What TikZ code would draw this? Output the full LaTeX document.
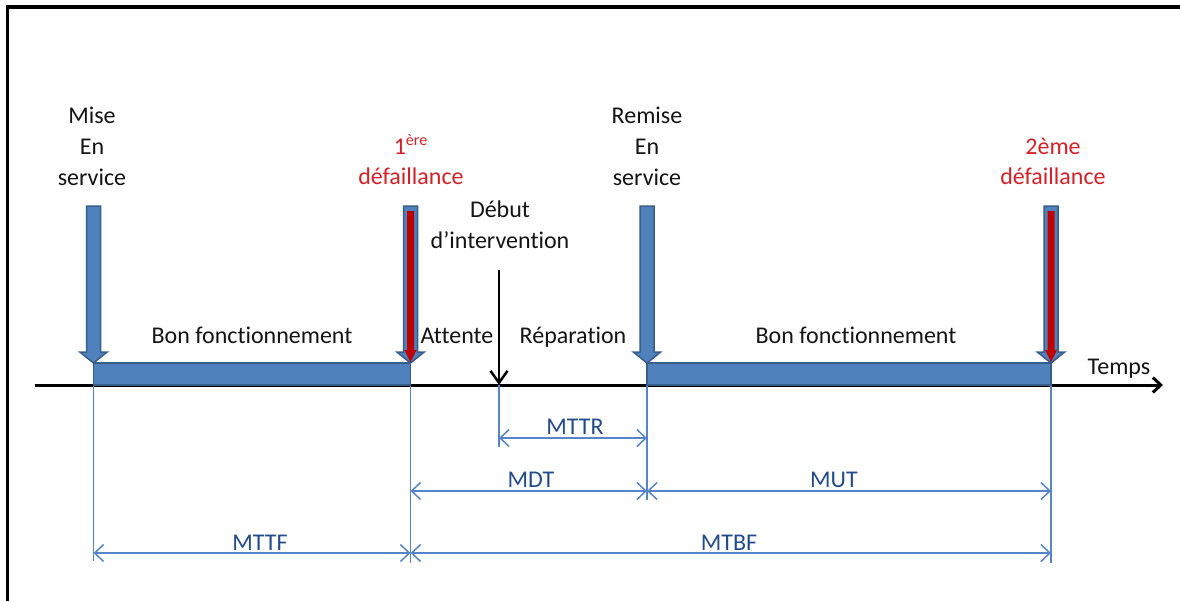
\documentclass[tikz,border=0pt]{standalone}
\usepackage{fontspec}
\setmainfont{Carlito}[Ligatures=NoCommon]
\usetikzlibrary{arrows.meta}

\definecolor{barfill}{RGB}{79,129,189}
\definecolor{barline}{RGB}{56,93,138}
\definecolor{dimline}{RGB}{86,132,200}
\definecolor{dimtext}{RGB}{35,75,140}
\definecolor{failred}{RGB}{192,0,0}
\definecolor{failtext}{RGB}{212,32,38}
\definecolor{ink}{RGB}{20,20,20}

\tikzset{
  % blue block arrow marking an event on the time axis (tip at the origin)
  pics/eventarrow/.style={code={
    \path[arrowbody] (-7,-157) -- (7,-157) -- (7,-11) -- (13.7,-11)
      -- (0,0) -- (-13.7,-11) -- (-7,-11) -- cycle;}},
  % red core laid inside a failure arrow
  pics/failcore/.style={code={
    \path[redcore] (-3.5,-152) -- (3.5,-152) -- (3.5,-13) -- (6,-13)
      -- (0,-1) -- (-6,-13) -- (-3.5,-13) -- cycle;}}
}

\begin{document}
\begin{tikzpicture}[x=0.5pt,y=-0.5pt,
  lbl/.style={inner sep=0pt,anchor=base,text=ink,font=\fontsize{12}{14}\selectfont},
  faillbl/.style={lbl,text=failtext},
  dimlbl/.style={lbl,text=dimtext},
  bar/.style={fill=barfill,draw=barline,line width=0.75pt},
  arrowbody/.style={fill=barfill,draw=barline,line width=0.75pt,line join=miter},
  redcore/.style={fill=failred},
  guide/.style={draw=dimline,line width=0.75pt},
  dim/.style={draw=dimline,line width=0.75pt,
    {Straight Barb[length=4.5pt,width=8.5pt]}-{Straight Barb[length=4.5pt,width=8.5pt]}},
  axis/.style={draw=black,line width=1.5pt,-{Straight Barb[length=4pt,width=7.5pt]}},
  interv/.style={draw=black,line width=1.25pt,-{Straight Barb[length=6pt,width=8.5pt]}}]

\useasboundingbox (0,0) rectangle (1180,601);

% frame
\draw[line width=1.75pt] (7.5,601) -- (7.5,7) -- (1180,7);

% events on the time axis
\coordinate (axstart) at (35,385);
\coordinate (axend)   at (1163,385);
\coordinate (t0) at (93.5,385);
\coordinate (t1) at (410.5,385);
\coordinate (ti) at (499,385);
\coordinate (t2) at (647,385);
\coordinate (t3) at (1051,385);

% levels of the dimension lines
\coordinate (lvR) at (0,438);
\coordinate (lvD) at (0,491);
\coordinate (lvB) at (0,553);

% time axis
\draw[axis] (axstart) -- (axend);

% guide lines under the events
\draw[guide] (t0) -- ++(0,176);
\draw[guide] (t1) -- ++(0,178);
\draw[guide] (ti) -- ++(0,62);
\draw[guide] (t2) -- ++(0,115);
\draw[guide] (t3) -- ++(0,178);

% operating periods
\path[bar] (93.5,363) rectangle (410.5,385);
\path[bar] (647,363) rectangle (1051,385);

% event arrows
\pic at (93.5,363) {eventarrow};
\pic at (410.5,363) {eventarrow};
\pic at (410.5,363) {failcore};
\pic at (647,363) {eventarrow};
\pic at (1051,363) {eventarrow};
\pic at (1051,363) {failcore};

% start of intervention
\coordinate (itop) at (499,270);
\draw[interv] (itop) -- (ti);

% dimension lines
\draw[dim] (ti |- lvR) -- (t2 |- lvR);
\draw[dim] (t1 |- lvD) -- (t2 |- lvD);
\draw[dim] (t2 |- lvD) -- (t3 |- lvD);
\draw[dim] (t0 |- lvB) -- (t1 |- lvB);
\draw[dim] (t1 |- lvB) -- (t3 |- lvB);

% event labels
\node[lbl] (mise1) at (92,123) {Mise};
\node[lbl] (mise2) at (92,154) {En};
\node[lbl] (mise3) at (92,185) {service};

\node[faillbl] (fa1) at (411,154) {1\textsuperscript{ère}};
\node[faillbl] (fa2) at (411,184) {défaillance};

\node[lbl] (deb1) at (500,217) {Début};
\node[lbl] (deb2) at (500,248) {d’intervention};

\node[lbl] (rem1) at (647,123) {Remise};
\node[lbl] (rem2) at (647,154) {En};
\node[lbl] (rem3) at (647,185) {service};

\node[faillbl] (fb1) at (1053,154) {2ème};
\node[faillbl] (fb2) at (1053,184) {défaillance};

% period labels
\node[lbl] (bon1) at (252,343) {Bon fonctionnement};
\node[lbl] (att)  at (457,343) {Attente};
\node[lbl] (rep)  at (573,343) {Réparation};
\node[lbl] (bon2) at (856,343) {Bon fonctionnement};
\node[lbl] (temps) at (1119,374) {Temps};

% indicator labels
\node[dimlbl] (mttr) at (575,434) {MTTR};
\node[dimlbl] (mdt)  at (531,487) {MDT};
\node[dimlbl] (mut)  at (834,487) {MUT};
\node[dimlbl] (mttf) at (260,550) {MTTF};
\node[dimlbl] (mtbf) at (729,550) {MTBF};

\end{tikzpicture}
\end{document}
